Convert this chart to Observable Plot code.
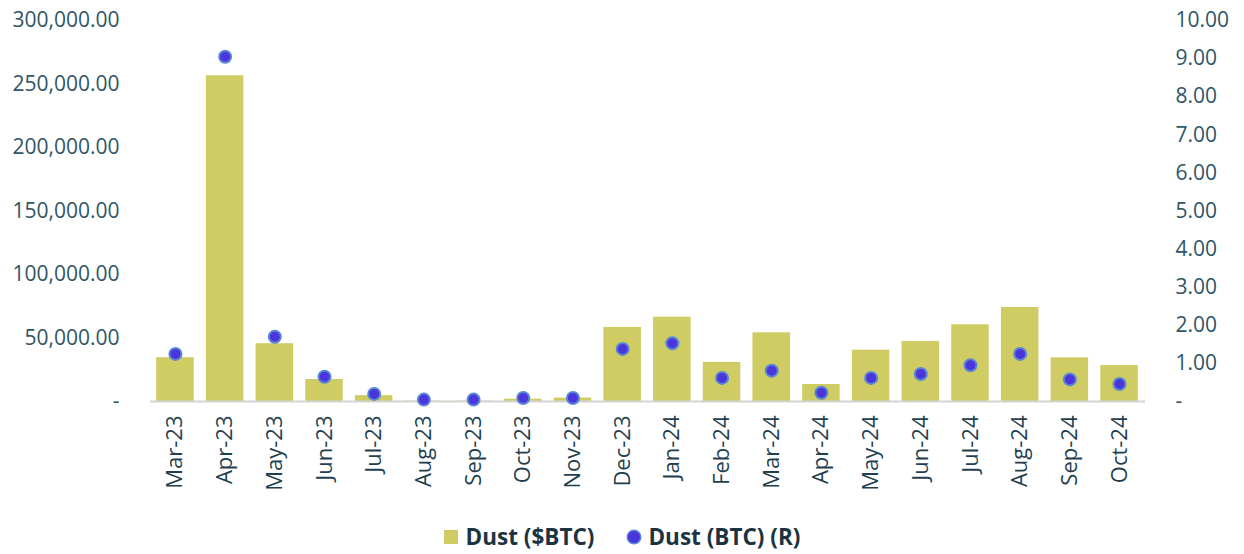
<!DOCTYPE html>
<html>
<head>
<meta charset="utf-8">
<script src="https://cdn.jsdelivr.net/npm/d3@7"></script>
<script src="https://cdn.jsdelivr.net/npm/@observablehq/plot@0.6"></script>
<style>
  html, body { margin: 0; padding: 0; background: #fff; }
  body { width: 1244px; height: 554px; overflow: hidden; font-family: "Open Sans", sans-serif; }
  #legend { display: flex; justify-content: center; align-items: center; gap: 34px; margin-top: 6px;
    font-weight: 700; font-size: 22.5px; color: #1c3442; }
  .item { display: flex; align-items: center; gap: 8px; }
  .sq { width: 14px; height: 14px; background: #cfcc63; display: inline-block; }
  .dt { width: 12px; height: 12px; border-radius: 50%; background: #4b35dc; box-shadow: 0 0 0 1.5px #5a86d6; display: inline-block; }
</style>
</head>
<body>
<div id="chart"></div>
<div id="legend">
  <span class="item"><span class="sq"></span>Dust ($BTC)</span>
  <span class="item"><span class="dt"></span>Dust (BTC) (R)</span>
</div>
<script>
const months = ["Mar-23","Apr-23","May-23","Jun-23","Jul-23","Aug-23","Sep-23","Oct-23","Nov-23","Dec-23",
  "Jan-24","Feb-24","Mar-24","Apr-24","May-24","Jun-24","Jul-24","Aug-24","Sep-24","Oct-24"];
const dustUSD = [34500, 256500, 45500, 17300, 4600, 300, 300, 1800, 2700, 58300,
  66400, 30700, 54100, 13400, 40400, 47200, 60400, 74000, 34400, 28300];
const dustBTC = [1.25, 9.05, 1.70, 0.65, 0.20, 0.05, 0.05, 0.09, 0.09, 1.38,
  1.53, 0.62, 0.81, 0.23, 0.62, 0.72, 0.95, 1.25, 0.58, 0.46];
const leftTicks = [0, 50000, 100000, 150000, 200000, 250000, 300000];
const rightTicks = [0, 1, 2, 3, 4, 5, 6, 7, 8, 9, 10];

const ratio = leftTicks[leftTicks.length - 1] / rightTicks[rightTicks.length - 1];
const data = months.map((m, i) => ({month: m, usd: dustUSD[i], btc: dustBTC[i]}));
const f2 = d3.format(",.2f");
const fmt = v => v === 0 ? "-" : f2(v);

const chart = Plot.plot({
  width: 1244,
  height: 515,
  marginLeft: 144,
  marginRight: 94,
  marginTop: 20,
  marginBottom: 114,
  style: {fontFamily: "Open Sans, sans-serif", background: "#fff"},
  x: {domain: months, padding: 0.245, round: false, label: null},
  y: {domain: [0, leftTicks[leftTicks.length - 1]], label: null},
  marks: [
    Plot.barY(data, {x: "month", y: "usd", fill: "#cfcc63"}),
    Plot.ruleY([0], {stroke: "#d4d4d4", strokeWidth: 2, insetLeft: 6, insetRight: 5}),
    Plot.dot(data, {x: "month", y: d => d.btc * ratio, r: 6, fill: "#4b35dc", stroke: "#5a86d6", strokeWidth: 2}),
    Plot.axisY({anchor: "left", ticks: leftTicks, tickSize: 0, tickPadding: 25, tickFormat: fmt,
      fontSize: 21, fill: "#2f5566", label: null}),
    Plot.axisY({anchor: "right", ticks: rightTicks.map(t => t * ratio), tickSize: 0, tickPadding: 25,
      tickFormat: d => fmt(d / ratio), fontSize: 21, fill: "#2f5566", label: null}),
    Plot.axisX({tickRotate: -90, tickSize: 0, tickPadding: 14, fontSize: 22, fill: "#1f3f4f", label: null})
  ]
});
document.getElementById("chart").appendChild(chart);
</script>
</body>
</html>
